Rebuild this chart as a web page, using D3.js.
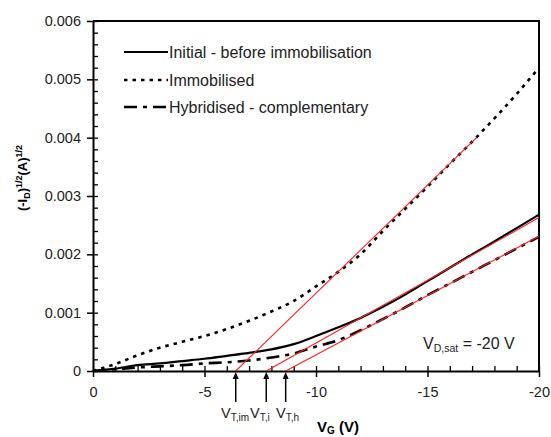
<!DOCTYPE html>
<html>
<head>
<meta charset="utf-8">
<script src="https://cdn.jsdelivr.net/npm/d3@7"></script>
<style>
  body { margin: 0; background: #fff; }
  svg { font-family: "Liberation Sans", Arial, sans-serif; }
</style>
</head>
<body>
<svg id="chart" width="551" height="437"></svg>
<script>
// gate voltage steps (V)
var vg = [0, -1, -2, -3, -4, -5, -6, -7, -8, -9, -10, -11, -12, -13, -14, -15, -16, -17, -18, -19, -20];

// sqrt(-Id) values
var initial = [0, 0.00004, 0.0001, 0.00013, 0.00017, 0.00021, 0.00026, 0.00031, 0.00037, 0.00046, 0.0006,
    0.00075, 0.00091, 0.0011, 0.00131, 0.00154, 0.00177, 0.002, 0.00222, 0.00245, 0.00268];
var immobilised = [0, 0.00012, 0.00027, 0.0004, 0.0005, 0.0006, 0.00072, 0.00086, 0.00102, 0.0012, 0.00145,
    0.0017, 0.002, 0.0024, 0.00278, 0.00316, 0.00355, 0.00393, 0.00433, 0.00475, 0.0052];
var hybridised = [0, 0.00003, 0.00006, 0.00008, 0.0001, 0.00013, 0.00015, 0.00018, 0.00023, 0.0003, 0.00042,
    0.00053, 0.0007, 0.00089, 0.00109, 0.0013, 0.0015, 0.0017, 0.0019, 0.0021, 0.0023];

var seriesNames = ["Initial - before immobilisation", "Immobilised", "Hybridised - complementary"];

// threshold voltages and linear fits (red)
var vtNames = ["T,im", "T,i", "T,h"];
var vtValues = [-6.4, -7.77, -8.64];
var fitEnds = [[-17.2, 0.004], [-20, 0.00263], [-20, 0.00231]];

var yTicks = [0, 0.001, 0.002, 0.003, 0.004, 0.005, 0.006];
var xTicks = [0, -5, -10, -15, -20];

var svg = d3.select("#chart");
var mLeft = 93, mRight = 539, mTop = 21, mBottom = 371;

var x = d3.scaleLinear().domain([0, -20]).range([mLeft, mRight]);
var y = d3.scaleLinear().domain([0, 0.006]).range([mBottom, mTop]);

// minor ticks (inside)
svg.append("g")
    .attr("transform", "translate(0," + mBottom + ")")
    .call(d3.axisBottom(x).tickValues(d3.range(0, -21, -1)).tickSize(-5).tickFormat(""))
    .call(function(g) { g.select(".domain").remove(); })
    .selectAll("line").attr("stroke-width", 1.3);
svg.append("g")
    .attr("transform", "translate(" + mLeft + ",0)")
    .call(d3.axisLeft(y).tickValues(d3.range(0, 31).map(function(i) { return i * 0.0002; })).tickSize(-5).tickFormat(""))
    .call(function(g) { g.select(".domain").remove(); })
    .selectAll("line").attr("stroke-width", 1.3);

// major ticks (outside) with labels
var xAxis = svg.append("g")
    .attr("transform", "translate(0," + mBottom + ")")
    .call(d3.axisBottom(x).tickValues(xTicks).tickSize(6).tickPadding(10).tickSizeOuter(0)
        .tickFormat(function(d) { return d === 0 ? "0" : String(d); }));
xAxis.select(".domain").attr("stroke-width", 2);
xAxis.selectAll("line").attr("stroke-width", 1.5);
xAxis.selectAll("text").attr("font-size", 14.5).attr("font-family", "Liberation Sans, Arial, sans-serif").attr("fill", "#222");

var yAxis = svg.append("g")
    .attr("transform", "translate(" + mLeft + ",0)")
    .call(d3.axisLeft(y).tickValues(yTicks).tickSize(6).tickPadding(6).tickSizeOuter(0)
        .tickFormat(function(d) { return d === 0 ? "0" : d3.format(".3f")(d); }));
yAxis.select(".domain").attr("stroke-width", 2);
yAxis.selectAll("line").attr("stroke-width", 1.5);
yAxis.selectAll("text").attr("font-size", 14.5).attr("font-family", "Liberation Sans, Arial, sans-serif").attr("fill", "#222");

// top and right frame
svg.append("path")
    .attr("d", "M" + mLeft + "," + mTop + "H" + mRight + "V" + mBottom)
    .attr("fill", "none").attr("stroke", "#000").attr("stroke-width", 2);

// data lines
var line = d3.line()
    .x(function(d, i) { return x(vg[i]); })
    .y(function(d) { return y(d); })
    .curve(d3.curveMonotoneX);

var styles = [
    { dash: null, width: 2.2 },
    { dash: "3.5,5", width: 2.6 },
    { dash: "13,6,4,6", width: 2.6 }
];
[initial, immobilised, hybridised].forEach(function(s, k) {
    svg.append("path")
        .datum(s)
        .attr("d", line)
        .attr("fill", "none")
        .attr("stroke", "#000")
        .attr("stroke-width", styles[k].width)
        .attr("stroke-dasharray", styles[k].dash);
});

// red fit lines
vtValues.forEach(function(v, k) {
    svg.append("line")
        .attr("x1", x(v)).attr("y1", y(0))
        .attr("x2", x(fitEnds[k][0])).attr("y2", y(fitEnds[k][1]))
        .attr("stroke", "#ff2020").attr("stroke-width", 1.1);
});

// arrows to threshold voltages
vtValues.forEach(function(v) {
    var px = x(v);
    svg.append("line")
        .attr("x1", px).attr("x2", px)
        .attr("y1", mBottom + 6).attr("y2", mBottom + 31)
        .attr("stroke", "#000").attr("stroke-width", 1.5);
    svg.append("path")
        .attr("d", "M" + px + "," + (mBottom + 1) + "L" + (px - 3) + "," + (mBottom + 8) + "L" + (px + 3) + "," + (mBottom + 8) + "Z")
        .attr("fill", "#000");
});

// threshold labels
var vtLabelX = [221, 250, 276];
vtNames.forEach(function(n, k) {
    var t = svg.append("text")
        .attr("x", vtLabelX[k]).attr("y", 418)
        .attr("font-size", 14.5).attr("fill", "#222");
    t.append("tspan").text("V");
    t.append("tspan").attr("font-size", 10).attr("dy", 3).text(n);
});

// legend
var legY = [52, 80, 107];
seriesNames.forEach(function(name, k) {
    svg.append("line")
        .attr("x1", 124).attr("x2", 168)
        .attr("y1", legY[k]).attr("y2", legY[k])
        .attr("stroke", "#000")
        .attr("stroke-width", styles[k].width)
        .attr("stroke-dasharray", styles[k].dash);
    svg.append("text")
        .attr("x", 169).attr("y", legY[k] + 5.5)
        .attr("font-size", 16).attr("fill", "#222")
        .text(name);
});

// V_D,sat annotation
var vd = svg.append("text").attr("x", 423).attr("y", 349).attr("font-size", 16).attr("fill", "#222");
vd.append("tspan").text("V");
vd.append("tspan").attr("font-size", 10.5).attr("dy", 3).text("D,sat");
vd.append("tspan").attr("dy", -3).text(" = -20 V");

// axis titles
var xt = svg.append("text").attr("x", 317).attr("y", 432).attr("font-size", 15).attr("font-weight", "bold");
xt.append("tspan").text("V");
xt.append("tspan").attr("font-size", 10).attr("dy", 2).text("G");
xt.append("tspan").attr("dy", -2).text(" (V)");

var yt = svg.append("text")
    .attr("transform", "translate(27,178) rotate(-90)")
    .attr("text-anchor", "middle")
    .attr("font-size", 13).attr("font-weight", "bold");
yt.append("tspan").text("(-I");
yt.append("tspan").attr("font-size", 9).attr("dy", 3).text("D");
yt.append("tspan").attr("dy", -3).text(")");
yt.append("tspan").attr("font-size", 9).attr("dy", -5).text("1/2");
yt.append("tspan").attr("dy", 5).text("(A)");
yt.append("tspan").attr("font-size", 9).attr("dy", -5).text("1/2");
</script>
</body>
</html>
